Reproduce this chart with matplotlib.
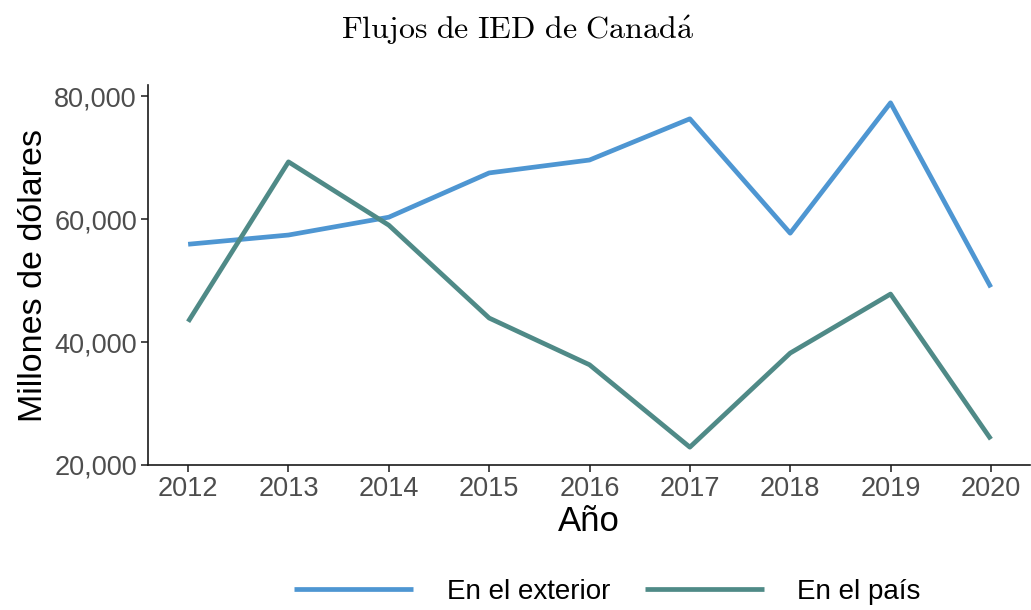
import matplotlib

matplotlib.use("Agg", force=True)
import matplotlib.pyplot as plt
from matplotlib.ticker import FuncFormatter

years = [2012, 2013, 2014, 2015, 2016, 2017, 2018, 2019, 2020]
exterior = [55900, 57400, 60300, 67500, 69600, 76300, 57700, 78900, 48900]
pais = [43300, 69300, 59000, 43900, 36300, 22900, 38200, 47800, 24200]
series_labels = ["En el exterior", "En el país"]
y_ticks = [20000, 40000, 60000, 80000]

plt.rcParams.update({"font.family": ["Liberation Sans", "DejaVu Sans"], "mathtext.fontset": "cm"})

fig = plt.figure(figsize=(10.31, 6.1), dpi=100)
ax = fig.add_axes([148 / 1031, 1 - 465 / 610, (1030 - 148) / 1031, (465 - 85) / 610])

ax.plot(years, exterior, color="#4E96D2", linewidth=3.4, label=series_labels[0], solid_capstyle="butt")
ax.plot(years, pais, color="#4F8A87", linewidth=3.4, label=series_labels[1], solid_capstyle="butt")

ax.set_xlim(2011.6, 2020.39)
ax.set_ylim(20000, 81800)
ax.set_xticks(years)
ax.set_yticks(y_ticks)
ax.yaxis.set_major_formatter(FuncFormatter(lambda v, _: f"{int(v):,}"))

for side in ("top", "right"):
    ax.spines[side].set_visible(False)
for side in ("left", "bottom"):
    ax.spines[side].set_linewidth(1.2)
    ax.spines[side].set_color("#1a1a1a")
ax.tick_params(axis="both", labelsize=19.5, labelcolor="#4D4D4D", color="#1a1a1a", width=1.1, length=5, pad=3)

ax.set_xlabel("Año", fontsize=25, labelpad=2)
ax.set_ylabel("Millones de dólares", fontsize=24.5, labelpad=4)

fig.text(0.502, 1 - 30 / 610, r"$\mathrm{Flujos\ de\ IED\ de\ Canad\acute{a}}$", ha="center", va="center", fontsize=23)

fig.legend(
    loc="center",
    bbox_to_anchor=(0.589, 1 - 592 / 610),
    ncol=2,
    frameon=False,
    fontsize=20,
    handlelength=4.3,
    handletextpad=1.2,
    columnspacing=1.25,
)

fig.savefig("out.png", dpi=100)
